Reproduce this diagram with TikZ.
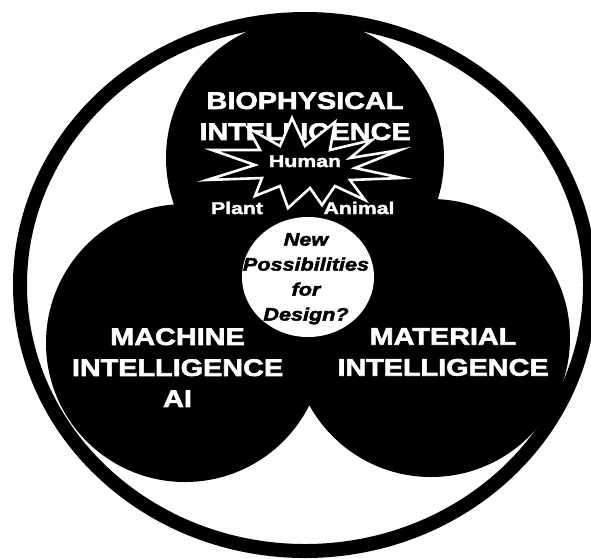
\documentclass[tikz,border=0pt]{standalone}
\usepackage{fontspec}
\setmainfont{Liberation Sans}
\newfontfamily\headfont[FakeStretch=1.2, FakeBold=2.5,
  UprightFont={Liberation Sans Bold},
  ItalicFont={Liberation Sans Bold Italic}]{Liberation Sans}
\newfontfamily\labelfont[FakeStretch=1.25, FakeBold=2,
  UprightFont={Liberation Sans Bold}]{Liberation Sans}
\usetikzlibrary{shapes.geometric}

\begin{document}
\begin{tikzpicture}[
  x=1pt, y=-1pt,
  ring/.style={ellipse, draw=black, line width=14pt, minimum width=570pt,
    minimum height=532pt, inner sep=0pt},
  blob/.style={circle, fill=black, minimum size=278pt, inner sep=0pt},
  hole/.style={ellipse, fill=white, minimum width=132pt, minimum height=120pt,
    inner sep=0pt},
  burst/.style={draw=white, fill=black, line width=2.6pt, line join=miter},
  head/.style={text=white, align=center, inner sep=0pt, anchor=north,
    font=\headfont\fontsize{24}{31}\selectfont},
  kind/.style={text=white, inner sep=0pt, anchor=base,
    font=\labelfont\fontsize{17}{20}\selectfont},
  query/.style={text=black, align=center, inner sep=0pt, anchor=north,
    font=\headfont\itshape\fontsize{18}{25}\selectfont},
]
\useasboundingbox (0,0) rectangle (591,558);

% outer ring and the three fields
\node[ring] (all) at (305,285) {};
\node[blob] (bio) at (305,158) {};
\node[blob] (mach) at (185,343) {};
\node[blob] (matl) at (431,338) {};

\node[head] (biot) at (305,92) {BIOPHYSICAL\\INTELLIGENCE};

% starburst round "Human"
\draw[burst] (292,118) -- (305,146) -- (335,122) -- (330,150) -- (372,140)
  -- (350,158) -- (400,150) -- (355,168) -- (402,178) -- (350,180)
  -- (365,200) -- (335,186) -- (322,205) -- (310,188) -- (288,208)
  -- (280,186) -- (255,196) -- (262,178) -- (207,180) -- (255,165)
  -- (212,150) -- (260,150) -- (248,128) -- (280,146) -- cycle;

\node[kind] (human) at (305,167) {Human};
\node[kind] (plant) at (237,214) {Plant};
\node[kind] (animal) at (359,214) {Animal};

% the overlap in the middle
\node[hole] (mid) at (308,277) {};
\node[query] (midt) at (306,233) {New\\Possibilities\\for\\Design?};

\node[head] (macht) at (177.5,328) {MACHINE\\INTELLIGENCE\\AI};
\node[head] (matlt) at (443,328) {MATERIAL\\INTELLIGENCE};
\end{tikzpicture}
\end{document}
